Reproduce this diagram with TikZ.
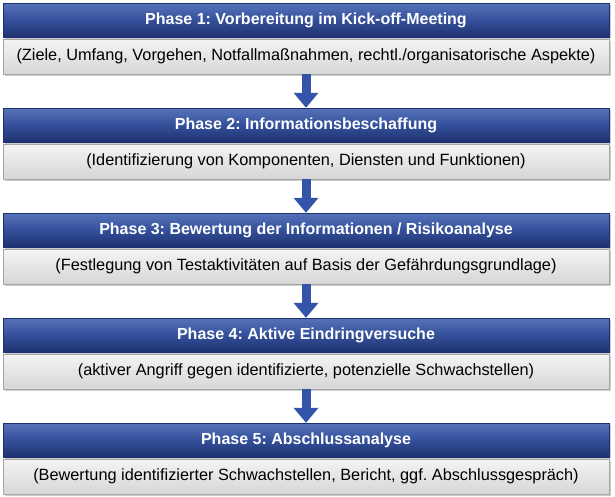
\documentclass[tikz,border=0pt]{standalone}
\usepackage{fontspec}
\setmainfont{Liberation Sans}
\frenchspacing
\usetikzlibrary{arrows.meta,shadows,positioning}
\definecolor{bluetop}{HTML}{5673BA}
\definecolor{bluemid}{HTML}{34509A}
\definecolor{bluebot}{HTML}{1E3170}
\definecolor{graytop}{HTML}{F4F4F4}
\definecolor{graybot}{HTML}{D6D6D6}
\definecolor{arrowblue}{HTML}{3354A8}
\tikzset{
  phasebar/.style={minimum width=606pt, minimum height=34pt, inner sep=0pt,
    top color=bluetop, bottom color=bluebot, middle color=bluemid, draw=bluebot, line width=0.4pt,
    text=white, font=\fontsize{16}{18}\selectfont\bfseries,
    drop shadow={shadow xshift=1.5pt, shadow yshift=-1.5pt, opacity=0.4}},
  infobar/.style={minimum width=606pt, minimum height=35pt, inner sep=0pt,
    top color=graytop, bottom color=graybot, draw=gray!70, line width=0.4pt,
    text=black, font=\fontsize{16.3}{18}\selectfont,
    drop shadow={shadow xshift=1.5pt, shadow yshift=-1.5pt, opacity=0.4}},
  flowarrow/.style={line width=9pt, draw=arrowblue, -{Triangle[width=24pt,length=15pt]}}
}
\begin{document}
\begin{tikzpicture}[x=1pt,y=1pt]
\useasboundingbox (0,0) rectangle (615,-496);
\node[phasebar] (b1) at (306,-20) {Phase 1: Vorbereitung im Kick-off-Meeting};
\node[infobar] (g1) at (306,-56.5) {(Ziele, Umfang, Vorgehen, Notfallmaßnahmen, rechtl./organisatorische Aspekte)};
\node[phasebar] (b2) at (306,-125) {Phase 2: Informationsbeschaffung};
\node[infobar] (g2) at (306,-161.5) {(Identifizierung von Komponenten, Diensten und Funktionen)};
\node[phasebar] (b3) at (306,-230) {Phase 3: Bewertung der Informationen / Risikoanalyse};
\node[infobar] (g3) at (306,-266.5) {(Festlegung von Testaktivitäten auf Basis der Gefährdungsgrundlage)};
\node[phasebar] (b4) at (306,-335) {Phase 4: Aktive Eindringversuche};
\node[infobar] (g4) at (306,-371.5) {(aktiver Angriff gegen identifizierte, potenzielle Schwachstellen)};
\node[phasebar] (b5) at (306,-440) {Phase 5: Abschlussanalyse};
\node[infobar] (g5) at (306,-476.5) {(Bewertung identifizierter Schwachstellen, Bericht, ggf. Abschlussgespräch)};
\draw[flowarrow] (g1.south) -- (b2.north);
\draw[flowarrow] (g2.south) -- (b3.north);
\draw[flowarrow] (g3.south) -- (b4.north);
\draw[flowarrow] (g4.south) -- (b5.north);
\end{tikzpicture}
\end{document}
